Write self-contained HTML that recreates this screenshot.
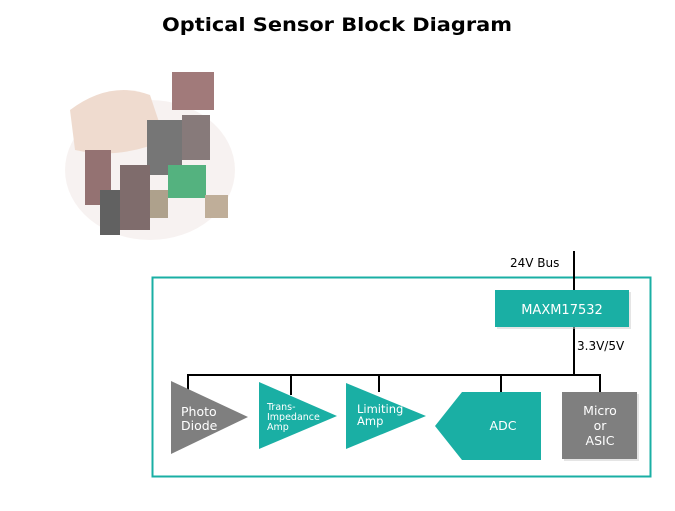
<!DOCTYPE html>
<html><head><style>
body{margin:0;width:675px;height:506px;background:#fff;overflow:hidden;}
</style></head><body>
<svg width="675" height="506" viewBox="0 0 675 506" xmlns="http://www.w3.org/2000/svg" font-family="DejaVu Sans, sans-serif">
<text x="337" y="31" text-anchor="middle" font-size="19" font-weight="bold" fill="#000" textLength="350" lengthAdjust="spacingAndGlyphs">Optical Sensor Block Diagram</text>
<g opacity="0.8">
<ellipse cx="150" cy="170" rx="85" ry="70" fill="#f6f0ee"/>
<path d="M70 110 Q110 80 150 95 L165 140 Q120 160 75 150Z" fill="#ecd3c4"/>
<rect x="172" y="72" width="42" height="38" fill="#8a5a5a"/>
<rect x="147" y="120" width="35" height="55" fill="#555"/>
<rect x="182" y="115" width="28" height="45" fill="#6a5a5a"/>
<rect x="85" y="150" width="26" height="55" fill="#7a5050"/>
<rect x="120" y="165" width="30" height="65" fill="#604848"/>
<rect x="100" y="190" width="20" height="45" fill="#3a3a3a"/>
<rect x="168" y="165" width="38" height="33" fill="#2aa060"/>
<rect x="205" y="195" width="23" height="23" fill="#b09a80"/>
<rect x="150" y="190" width="18" height="28" fill="#9a8a70"/>
</g>
<rect x="152.5" y="277.5" width="498" height="199" fill="none" stroke="#1aafa4" stroke-width="2"/>
<g stroke="#000" stroke-width="2" fill="none">
<line x1="574" y1="251" x2="574" y2="291"/>
<line x1="574" y1="326" x2="574" y2="375"/>
<line x1="187" y1="375" x2="601" y2="375"/>
<line x1="188" y1="374" x2="188" y2="390"/>
<line x1="291" y1="374" x2="291" y2="395"/>
<line x1="379" y1="374" x2="379" y2="392"/>
<line x1="501" y1="374" x2="501" y2="393"/>
<line x1="600" y1="374" x2="600" y2="393"/>
</g>
<text x="510" y="267" font-size="12" fill="#000">24V Bus</text>
<text x="577" y="350" font-size="12" fill="#000">3.3V/5V</text>
<rect x="497" y="292" width="134" height="37" fill="#ccc" opacity="0.5"/>
<rect x="495" y="290" width="134" height="37" fill="#1aafa4"/>
<text x="562" y="314" text-anchor="middle" font-size="13" fill="#fff">MAXM17532</text>
<polygon points="171,381 248,417 171,454" fill="#7f7f7f"/>
<text x="181" y="416" font-size="12.5" fill="#fff">Photo</text>
<text x="181" y="430" font-size="12.5" fill="#fff">Diode</text>
<polygon points="259,382 337,416 259,449" fill="#1aafa4"/>
<text x="267" y="410" font-size="9.5" fill="#fff">Trans-</text>
<text x="267" y="420" font-size="9.5" fill="#fff">Impedance</text>
<text x="267" y="430" font-size="9.5" fill="#fff">Amp</text>
<polygon points="346,383 426,416 346,449" fill="#1aafa4"/>
<text x="357" y="413" font-size="11.5" fill="#fff">Limiting</text>
<text x="357" y="425" font-size="11.5" fill="#fff">Amp</text>
<polygon points="462,392 541,392 541,460 462,460 435,426" fill="#1aafa4"/>
<text x="503" y="430" text-anchor="middle" font-size="12.5" fill="#fff">ADC</text>
<rect x="564" y="394" width="75" height="67" fill="#ccc" opacity="0.5"/>
<rect x="562" y="392" width="75" height="67" fill="#7f7f7f"/>
<text x="600" y="415" text-anchor="middle" font-size="12.5" fill="#fff">Micro</text>
<text x="600" y="430" text-anchor="middle" font-size="12.5" fill="#fff">or</text>
<text x="600" y="445" text-anchor="middle" font-size="12.5" fill="#fff">ASIC</text>
</svg>
</body></html>
